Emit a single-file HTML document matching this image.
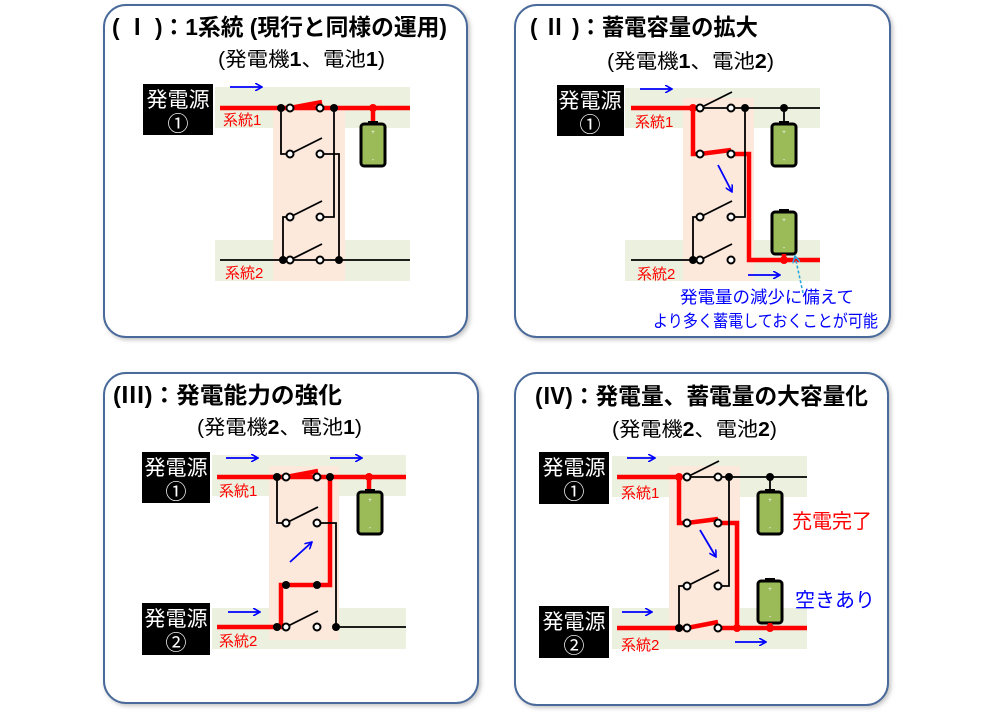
<!DOCTYPE html>
<html><head><meta charset="utf-8">
<style>
html,body{margin:0;padding:0;background:#fff;}
svg{display:block;}
text{font-family:"Liberation Sans","Noto Sans CJK JP",sans-serif;}
.t{font-size:23px;font-weight:bold;fill:#000;}
.s{font-size:20px;fill:#000;}
.w{font-size:21px;fill:#fff;}
.r{font-size:15px;fill:#f00;}
.bl{fill:none;stroke:#000;stroke-width:1.8;}
.rd{fill:none;stroke:#f00;stroke-width:4.5;}
.ar{fill:none;stroke:#00f;stroke-width:1.8;}
.oc{fill:#fff;stroke:#000;stroke-width:2;}
</style></head><body>
<svg width="1000" height="715" viewBox="0 0 1000 715" xmlns="http://www.w3.org/2000/svg">
<defs>
<filter id="sh" x="-5%" y="-5%" width="110%" height="110%"><feDropShadow dx="2" dy="2" stdDeviation="2" flood-color="#888" flood-opacity="0.5"/></filter>
<marker id="ah" markerWidth="8" markerHeight="8" refX="7" refY="4" orient="auto" markerUnits="userSpaceOnUse"><path d="M0,0 L7,4 L0,8" fill="none" stroke="#00f" stroke-width="1.6"/></marker>
<marker id="ac" markerWidth="8" markerHeight="8" refX="7" refY="4" orient="auto" markerUnits="userSpaceOnUse"><path d="M0,0 L7,4 L0,8" fill="none" stroke="#29a8e0" stroke-width="1.6"/></marker>
<g id="bat">
<rect x="-12" y="0" width="24" height="42" rx="3" fill="#9bbb59" stroke="#000" stroke-width="3"/>
<rect x="-5" y="-3" width="10" height="3" fill="#000"/>
<text x="0" y="10" font-size="6" fill="#fff" text-anchor="middle">+</text>
<text x="0" y="38" font-size="7" fill="#fff" text-anchor="middle">-</text>
</g>
</defs>

<rect x="104" y="5" width="363" height="332" rx="22" fill="#fff" stroke="#4a6a9a" stroke-width="2" filter="url(#sh)"/>
<rect x="515" y="5" width="375" height="332" rx="22" fill="#fff" stroke="#4a6a9a" stroke-width="2" filter="url(#sh)"/>
<rect x="104" y="373" width="374" height="330" rx="22" fill="#fff" stroke="#4a6a9a" stroke-width="2" filter="url(#sh)"/>
<rect x="515" y="373" width="373" height="332" rx="22" fill="#fff" stroke="#4a6a9a" stroke-width="2" filter="url(#sh)"/>

<!-- ============ Panel I ============ -->
<text class="t" x="112" y="35" textLength="335" lengthAdjust="spacingAndGlyphs">( Ⅰ )：1系統 (現行と同様の運用)</text>
<text class="s" x="218" y="66" textLength="167" lengthAdjust="spacingAndGlyphs">(発電機<tspan font-weight="bold">1</tspan>、電池<tspan font-weight="bold">1</tspan>)</text>
<rect x="215" y="87" width="195" height="41" fill="#ebf1de"/>
<rect x="215" y="240" width="195" height="41" fill="#ebf1de"/>
<rect x="273" y="107" width="72" height="174" fill="#fce9dc"/>
<rect x="143" y="84" width="70" height="51" fill="#000"/>
<text class="w" x="178" y="107" text-anchor="middle">発電源</text>
<text class="w" x="178" y="131" text-anchor="middle">①</text>
<line class="ar" x1="230" y1="87" x2="262" y2="87" marker-end="url(#ah)"/>
<text class="r" x="223" y="125">系統1</text>
<text class="r" x="225" y="278">系統2</text>
<line class="rd" x1="220" y1="108" x2="410" y2="108"/>
<line class="rd" x1="290" y1="108" x2="322" y2="102"/>
<line class="rd" x1="373" y1="108" x2="373" y2="124"/>
<use href="#bat" x="373" y="124"/>
<line class="bl" x1="220" y1="260" x2="410" y2="260"/>
<polyline class="bl" points="281,108 281,154 290,154"/>
<polyline class="bl" points="283,260 283,217 290,217"/>
<polyline class="bl" points="334,108 334,217 320,217"/>
<polyline class="bl" points="320,154 339,154 339,260"/>
<line class="bl" x1="290" y1="154" x2="322" y2="138"/>
<line class="bl" x1="290" y1="217" x2="322" y2="201"/>
<line class="bl" x1="290" y1="260" x2="322" y2="244"/>
<circle cx="281" cy="108" r="4"/><circle cx="334" cy="108" r="4"/><circle cx="373" cy="108" r="4" fill="#f00"/>
<circle cx="283" cy="260" r="4"/><circle cx="339" cy="260" r="4"/>
<circle class="oc" cx="290" cy="108" r="3.5"/><circle class="oc" cx="320" cy="108" r="3.5"/>
<circle class="oc" cx="290" cy="154" r="3.5"/><circle class="oc" cx="320" cy="154" r="3.5"/>
<circle class="oc" cx="290" cy="217" r="3.5"/><circle class="oc" cx="320" cy="217" r="3.5"/>
<circle class="oc" cx="290" cy="260" r="3.5"/><circle class="oc" cx="320" cy="260" r="3.5"/>

<!-- ============ Panel II ============ -->
<text class="t" x="530" y="35" textLength="228" lengthAdjust="spacingAndGlyphs">( Ⅱ )：蓄電容量の拡大</text>
<text class="s" x="607" y="68" textLength="167" lengthAdjust="spacingAndGlyphs">(発電機<tspan font-weight="bold">1</tspan>、電池<tspan font-weight="bold">2</tspan>)</text>
<rect x="625" y="88" width="195" height="40" fill="#ebf1de"/>
<rect x="625" y="240" width="195" height="41" fill="#ebf1de"/>
<rect x="683" y="98" width="71" height="183" fill="#fce9dc"/>
<rect x="557" y="85" width="67" height="51" fill="#000"/>
<text class="w" x="590" y="108" text-anchor="middle">発電源</text>
<text class="w" x="590" y="132" text-anchor="middle">①</text>
<line class="ar" x1="640" y1="89" x2="672" y2="89" marker-end="url(#ah)"/>
<text class="r" x="635" y="127">系統1</text>
<text class="r" x="637" y="279">系統2</text>
<line class="bl" x1="700" y1="108" x2="820" y2="108"/>
<line class="bl" x1="784" y1="108" x2="784" y2="124"/>
<use href="#bat" x="784" y="124"/>
<use href="#bat" x="784" y="212"/>
<line class="bl" x1="631" y1="260" x2="700" y2="260"/>
<polyline class="rd" points="631,108 693,108 693,154 700,154 731,150"/>
<polyline class="rd" points="731,154 749,154 749,260 820,260"/>
<line class="rd" x1="784" y1="254" x2="784" y2="260"/>
<polyline class="bl" points="693,260 693,217 700,217"/>
<polyline class="bl" points="745,108 745,217 731,217"/>
<line class="bl" x1="700" y1="108" x2="732" y2="92"/>
<line class="bl" x1="700" y1="217" x2="732" y2="201"/>
<line class="bl" x1="700" y1="260" x2="732" y2="244"/>
<circle cx="693" cy="108" r="4" fill="#f00"/><circle cx="745" cy="108" r="4"/><circle cx="784" cy="108" r="4"/>
<circle cx="693" cy="260" r="4"/><circle cx="784" cy="260" r="4" fill="#f00"/>
<circle class="oc" cx="700" cy="108" r="3.5"/><circle class="oc" cx="731" cy="108" r="3.5"/>
<circle class="oc" cx="700" cy="154" r="3.5"/><circle class="oc" cx="731" cy="154" r="3.5"/>
<circle class="oc" cx="700" cy="217" r="3.5"/><circle class="oc" cx="731" cy="217" r="3.5"/>
<circle class="oc" cx="700" cy="260" r="3.5"/><circle class="oc" cx="731" cy="260" r="3.5"/>
<line class="ar" x1="718" y1="165" x2="732" y2="192" marker-end="url(#ah)"/>
<line class="ar" x1="748" y1="275" x2="780" y2="275" marker-end="url(#ah)"/>
<line x1="803" y1="293" x2="795" y2="256" stroke="#29a8e0" stroke-width="1.6" stroke-dasharray="3,2" marker-end="url(#ac)"/>
<text x="680" y="303" font-size="17" fill="#0000ff" textLength="174" lengthAdjust="spacingAndGlyphs">発電量の減少に備えて</text>
<text x="653" y="327" font-size="17" fill="#0000ff" textLength="225" lengthAdjust="spacingAndGlyphs">より多く蓄電しておくことが可能</text>

<!-- ============ Panel III ============ -->
<text class="t" x="113" y="403" textLength="229" lengthAdjust="spacingAndGlyphs">(Ⅲ)：発電能力の強化</text>
<text class="s" x="197" y="434" textLength="165" lengthAdjust="spacingAndGlyphs">(発電機<tspan font-weight="bold">2</tspan>、電池<tspan font-weight="bold">1</tspan>)</text>
<rect x="212" y="455" width="194" height="41" fill="#ebf1de"/>
<rect x="212" y="608" width="194" height="41" fill="#ebf1de"/>
<rect x="269" y="466" width="70" height="174" fill="#fce9dc"/>
<rect x="142" y="452" width="68" height="51" fill="#000"/>
<text class="w" x="176" y="475" text-anchor="middle">発電源</text>
<text class="w" x="176" y="499" text-anchor="middle">①</text>
<rect x="142" y="603" width="68" height="52" fill="#000"/>
<text class="w" x="176" y="626" text-anchor="middle">発電源</text>
<text class="w" x="176" y="650" text-anchor="middle">②</text>
<text class="r" x="219" y="496">系統1</text>
<text class="r" x="219" y="646">系統2</text>
<line class="ar" x1="226" y1="458" x2="258" y2="458" marker-end="url(#ah)"/>
<line class="ar" x1="330" y1="458" x2="362" y2="458" marker-end="url(#ah)"/>
<line class="ar" x1="290" y1="562" x2="312" y2="542" marker-end="url(#ah)"/>
<line class="ar" x1="228" y1="612" x2="260" y2="612" marker-end="url(#ah)"/>
<line class="rd" x1="217" y1="477" x2="406" y2="477"/>
<line class="rd" x1="286" y1="477" x2="318" y2="471"/>
<line class="rd" x1="369" y1="477" x2="369" y2="492"/>
<use href="#bat" x="370" y="492"/>
<polyline class="rd" points="217,627 281,627 281,585 330,585 330,477"/>
<line class="bl" x1="336" y1="627" x2="406" y2="627"/>
<polyline class="bl" points="277,477 277,523 286,523"/>
<polyline class="bl" points="317,523 336,523 336,627"/>
<line class="bl" x1="286" y1="523" x2="318" y2="507"/>
<line class="bl" x1="286" y1="627" x2="318" y2="611"/>
<circle cx="277" cy="477" r="4"/><circle cx="330" cy="477" r="4"/><circle cx="369" cy="477" r="4" fill="#f00"/>
<circle cx="277" cy="627" r="4"/><circle cx="336" cy="627" r="4"/>
<circle cx="286" cy="585" r="4"/><circle cx="317" cy="585" r="4"/>
<circle class="oc" cx="286" cy="477" r="3.5"/><circle class="oc" cx="317" cy="477" r="3.5"/>
<circle class="oc" cx="286" cy="523" r="3.5"/><circle class="oc" cx="317" cy="523" r="3.5"/>
<circle class="oc" cx="286" cy="627" r="3.5"/><circle class="oc" cx="317" cy="627" r="3.5"/>

<!-- ============ Panel IV ============ -->
<text class="t" x="535" y="404" textLength="333" lengthAdjust="spacingAndGlyphs">(Ⅳ)：発電量、蓄電量の大容量化</text>
<text class="s" x="612" y="436" textLength="165" lengthAdjust="spacingAndGlyphs">(発電機<tspan font-weight="bold">2</tspan>、電池<tspan font-weight="bold">2</tspan>)</text>
<rect x="612" y="456" width="195" height="41" fill="#ebf1de"/>
<rect x="612" y="608" width="195" height="41" fill="#ebf1de"/>
<rect x="669" y="466" width="71" height="174" fill="#fce9dc"/>
<rect x="539" y="452" width="70" height="52" fill="#000"/>
<text class="w" x="574" y="475" text-anchor="middle">発電源</text>
<text class="w" x="574" y="499" text-anchor="middle">①</text>
<rect x="539" y="606" width="70" height="52" fill="#000"/>
<text class="w" x="574" y="629" text-anchor="middle">発電源</text>
<text class="w" x="574" y="653" text-anchor="middle">②</text>
<text class="r" x="621" y="498">系統1</text>
<text class="r" x="621" y="650">系統2</text>
<line class="ar" x1="627" y1="458" x2="655" y2="458" marker-end="url(#ah)"/>
<line class="ar" x1="700" y1="530" x2="716" y2="557" marker-end="url(#ah)"/>
<line class="ar" x1="622" y1="612" x2="652" y2="612" marker-end="url(#ah)"/>
<line class="ar" x1="735" y1="642" x2="766" y2="642" marker-end="url(#ah)"/>
<line class="bl" x1="687" y1="477" x2="807" y2="477"/>
<line class="bl" x1="770" y1="477" x2="770" y2="492"/>
<use href="#bat" x="770" y="492"/>
<use href="#bat" x="770" y="581"/>
<polyline class="rd" points="617,477 679,477 679,523 687,523 718,519"/>
<polyline class="rd" points="718,523 737,523 737,628"/>
<polyline class="rd" points="617,628 687,628 718,622"/>
<line class="rd" x1="718" y1="628" x2="807" y2="628"/>
<line class="rd" x1="770" y1="623" x2="770" y2="628"/>
<polyline class="bl" points="679,628 679,586 687,586"/>
<polyline class="bl" points="729,477 729,586 718,586"/>
<line class="bl" x1="687" y1="477" x2="719" y2="461"/>
<line class="bl" x1="687" y1="586" x2="719" y2="570"/>
<circle cx="679" cy="477" r="4" fill="#f00"/><circle cx="729" cy="477" r="4"/><circle cx="770" cy="477" r="4"/>
<circle cx="679" cy="628" r="4"/><circle cx="737" cy="628" r="4" fill="#f00"/><circle cx="770" cy="628" r="4" fill="#f00"/>
<circle class="oc" cx="687" cy="477" r="3.5"/><circle class="oc" cx="718" cy="477" r="3.5"/>
<circle class="oc" cx="687" cy="523" r="3.5"/><circle class="oc" cx="718" cy="523" r="3.5"/>
<circle class="oc" cx="687" cy="586" r="3.5"/><circle class="oc" cx="718" cy="586" r="3.5"/>
<circle class="oc" cx="687" cy="628" r="3.5"/><circle class="oc" cx="718" cy="628" r="3.5"/>
<text x="792" y="528" font-size="20" fill="#f00">充電完了</text>
<text x="795" y="607" font-size="20" fill="#0000ff">空きあり</text>
</svg>
</body></html>
